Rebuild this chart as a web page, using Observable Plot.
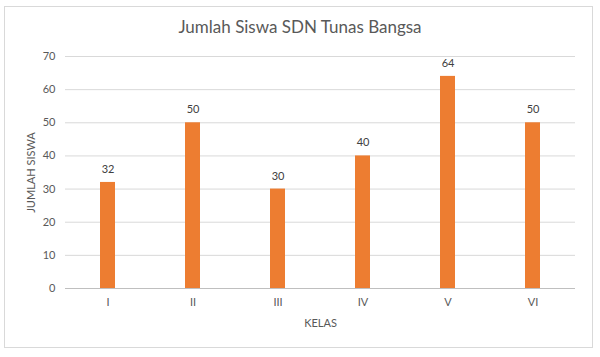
<!DOCTYPE html>
<html>
<head>
<meta charset="utf-8">
<script src="https://cdn.jsdelivr.net/npm/d3@7"></script>
<script src="https://cdn.jsdelivr.net/npm/@observablehq/plot@0.6"></script>
<style>
  html, body { margin: 0; padding: 0; background: #fff; }
  #wrap { position: relative; width: 600px; height: 357px; overflow: hidden; font-family: Lato, "Open Sans", sans-serif; }
  #frame { position: absolute; left: 4px; top: 6px; width: 589px; height: 342px; border: 1px solid #d9d9d9; box-sizing: border-box; }
  #title { position: absolute; left: 0; width: 600px; top: 16px; text-align: center; font-size: 17px; color: #595959; }
  #chart { position: absolute; left: 0; top: 0; }
</style>
</head>
<body>
<div id="wrap">
  <div id="frame"></div>
  <div id="title">Jumlah Siswa SDN Tunas Bangsa</div>
  <div id="chart"></div>
</div>
<script>
const kelas = ["I", "II", "III", "IV", "V", "VI"];
const jumlah = [32, 50, 30, 40, 64, 50];
const yTicks = [0, 10, 20, 30, 40, 50, 60, 70];

const data = kelas.map((k, i) => ({kelas: k, jumlah: jumlah[i]}));

const chart = Plot.plot({
  width: 600,
  height: 357,
  marginLeft: 65,
  marginRight: 25,
  marginTop: 56,
  marginBottom: 69,
  style: { fontFamily: "Lato, 'Open Sans', sans-serif", fontSize: "11px", color: "#595959", background: "transparent" },
  x: { domain: kelas, paddingInner: 0.82, paddingOuter: 0.41, label: null },
  y: { domain: [0, 70], label: null },
  marks: [
    Plot.gridY(yTicks.filter(d => d > 0), { stroke: "#d9d9d9", strokeOpacity: 1 }),
    Plot.ruleY([0], { stroke: "#bfbfbf" }),
    Plot.barY(data, { x: "kelas", y: "jumlah", fill: "#ed7d31" }),
    Plot.text(data, { x: "kelas", y: "jumlah", text: d => String(d.jumlah), dy: -13, fill: "#404040", fontSize: 11 }),
    Plot.axisY({ ticks: yTicks, tickSize: 0, tickPadding: 10, label: null, fill: "#595959", fontSize: 11 }),
    Plot.axisX({ tickSize: 0, tickPadding: 10, label: null, fill: "#595959", fontSize: 11 }),
    Plot.text(["KELAS"], { frameAnchor: "bottom", dy: 38, fill: "#595959", fontSize: 11 }),
    Plot.text(["JUMLAH SISWA"], { frameAnchor: "left", textAnchor: "middle", dx: -34, rotate: -90, fill: "#595959", fontSize: 11 })
  ]
});
document.getElementById("chart").appendChild(chart);
</script>
</body>
</html>
